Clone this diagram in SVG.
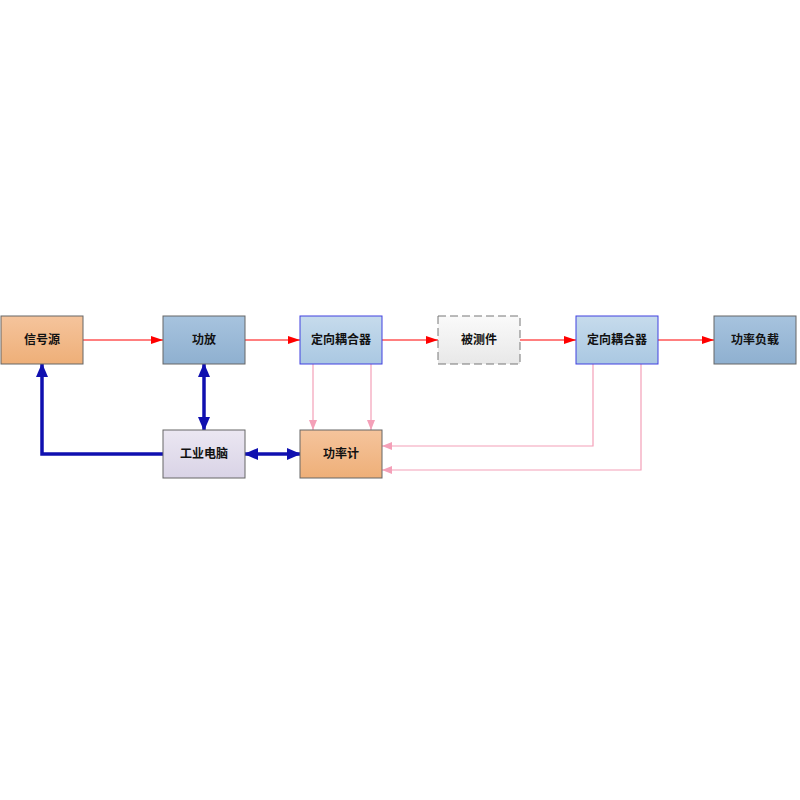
<svg xmlns="http://www.w3.org/2000/svg" width="800" height="800" viewBox="0 0 800 800">
<style>
text{font-family:"Liberation Serif","Noto Sans CJK SC",serif;font-size:12px;font-weight:bold;text-anchor:middle;dominant-baseline:central;fill:#111}
.b{stroke:#666;stroke-width:1}
.r{stroke:#f00;stroke-width:1;fill:none}
.p{stroke:#f4a0b8;stroke-width:1.2;fill:none}
.k{stroke:#1010b0;stroke-width:3.5;fill:none}
</style>
<defs>
<linearGradient id="go" x1="0" y1="0" x2="0" y2="1"><stop offset="0" stop-color="#f5c49c"/><stop offset="1" stop-color="#eeaf78"/></linearGradient>
<linearGradient id="gb" x1="0" y1="0" x2="0" y2="1"><stop offset="0" stop-color="#a7c3de"/><stop offset="1" stop-color="#8fb0d0"/></linearGradient>
<linearGradient id="gl" x1="0" y1="0" x2="0" y2="1"><stop offset="0" stop-color="#c6dbec"/><stop offset="1" stop-color="#aac8e2"/></linearGradient>
<linearGradient id="gp" x1="0" y1="0" x2="0" y2="1"><stop offset="0" stop-color="#ebe7f2"/><stop offset="1" stop-color="#d9d3e6"/></linearGradient>
<linearGradient id="gw" x1="0" y1="0" x2="0" y2="1"><stop offset="0" stop-color="#fafafa"/><stop offset="1" stop-color="#e8e8e8"/></linearGradient>
<marker id="ar" markerWidth="12" markerHeight="8" refX="12" refY="4" orient="auto" markerUnits="userSpaceOnUse"><path d="M0,0L12,4L0,8z" fill="#f00"/></marker>
<marker id="ap" markerWidth="10" markerHeight="8" refX="10" refY="4" orient="auto" markerUnits="userSpaceOnUse"><path d="M0,0L10,4L0,8z" fill="#f4a0b8"/></marker>
<marker id="ak" markerWidth="14" markerHeight="12" refX="13" refY="6" orient="auto" markerUnits="userSpaceOnUse"><path d="M0,0L14,6L0,12z" fill="#1010b0"/></marker>
<marker id="aks" markerWidth="14" markerHeight="12" refX="1" refY="6" orient="auto" markerUnits="userSpaceOnUse"><path d="M14,0L0,6L14,12z" fill="#1010b0"/></marker>
</defs>
<g id="connectors">
<line class="r" x1="83" y1="340" x2="163" y2="340" marker-end="url(#ar)"/>
<line class="r" x1="245" y1="340" x2="300" y2="340" marker-end="url(#ar)"/>
<line class="r" x1="382" y1="340" x2="438" y2="340" marker-end="url(#ar)"/>
<line class="r" x1="520" y1="340" x2="576" y2="340" marker-end="url(#ar)"/>
<line class="r" x1="658" y1="340" x2="714" y2="340" marker-end="url(#ar)"/>
<line class="p" x1="313" y1="364" x2="313" y2="430" marker-end="url(#ap)"/>
<line class="p" x1="371" y1="364" x2="371" y2="430" marker-end="url(#ap)"/>
<polyline class="p" points="593,364 593,446 382,446" marker-end="url(#ap)"/>
<polyline class="p" points="641,364 641,470 382,470" marker-end="url(#ap)"/>
<polyline class="k" points="163,454 42,454 42,364" marker-start="url(#ak)" marker-end="url(#ak)"/>
<line class="k" x1="204" y1="364" x2="204" y2="430" marker-start="url(#aks)" marker-end="url(#ak)"/>
<line class="k" x1="245" y1="454" x2="300" y2="454" marker-start="url(#aks)" marker-end="url(#ak)"/>
</g>
<g id="n1"><rect class="b" x="1" y="316" width="82" height="48" fill="url(#go)"/><text x="42" y="340">信号源</text></g>
<g id="n2"><rect class="b" x="163" y="316" width="82" height="48" fill="url(#gb)"/><text x="204" y="340">功放</text></g>
<g id="n3"><rect x="300" y="316" width="82" height="48" fill="url(#gl)" stroke="#4040e0"/><text x="341" y="340">定向耦合器</text></g>
<g id="n4"><rect x="438" y="316" width="82" height="48" fill="url(#gw)" stroke="#777" stroke-dasharray="8,4"/><text x="479" y="340">被测件</text></g>
<g id="n5"><rect x="576" y="316" width="82" height="48" fill="url(#gl)" stroke="#4040e0"/><text x="617" y="340">定向耦合器</text></g>
<g id="n6"><rect class="b" x="714" y="316" width="82" height="48" fill="url(#gb)"/><text x="755" y="340">功率负载</text></g>
<g id="n7"><rect class="b" x="163" y="430" width="82" height="48" fill="url(#gp)"/><text x="204" y="454" font-weight="normal">工业电脑</text></g>
<g id="n8"><rect class="b" x="300" y="430" width="82" height="48" fill="url(#go)"/><text x="341" y="454">功率计</text></g>
</svg>
